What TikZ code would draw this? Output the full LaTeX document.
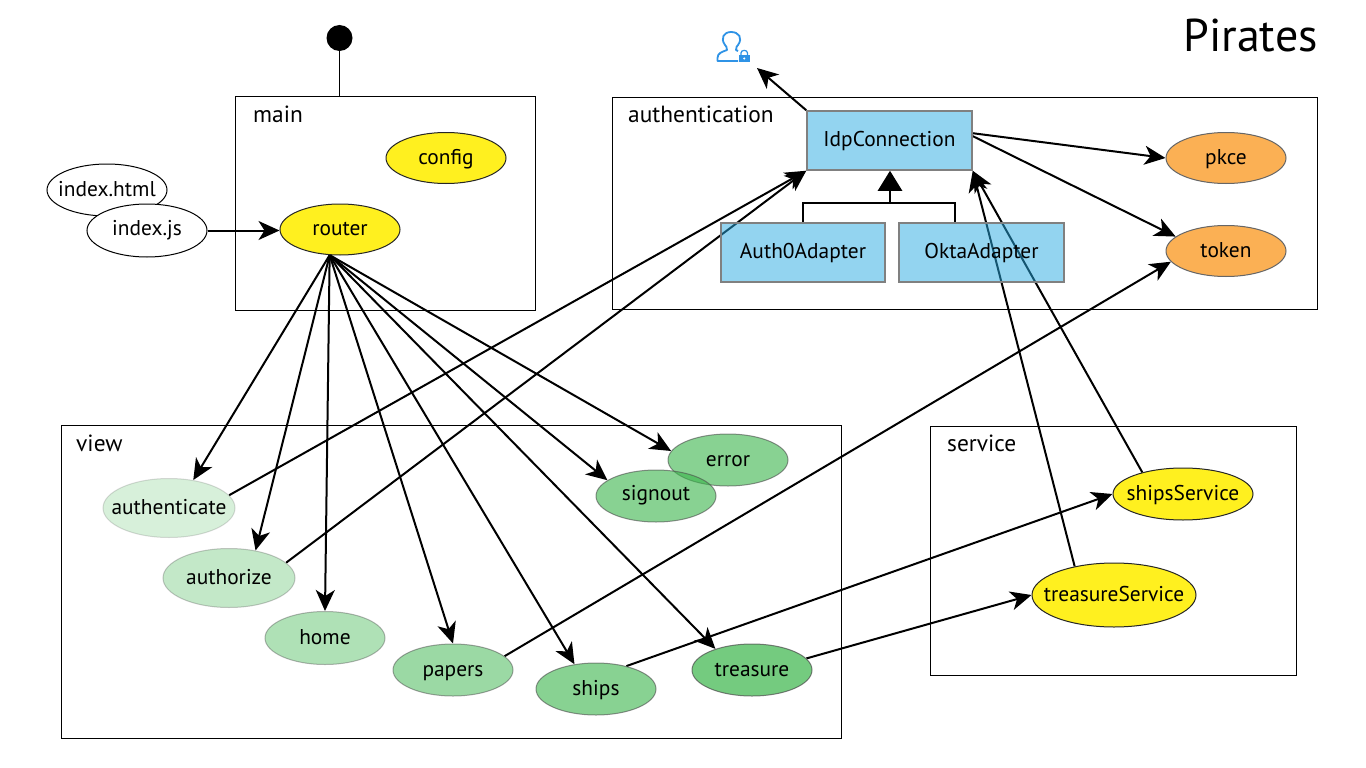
\documentclass[tikz,border=0pt]{standalone}
\usepackage{fontspec}
\setmainfont{PT Sans}
\usetikzlibrary{arrows.meta,shapes.geometric,backgrounds}
\definecolor{gbase}{HTML}{39B54A}
\definecolor{ybase}{HTML}{FFF01F}
\definecolor{obase}{HTML}{FBB054}
\definecolor{bbase}{HTML}{29ABE2}
\definecolor{iconblue}{HTML}{2F93E6}
\tikzset{
  every node/.style={font=\fontsize{21.4}{24}\selectfont,text=black},
  pack/.style={draw=black,line width=1pt,fill=none,rectangle,inner sep=0pt,anchor=north west},
  packlabel/.style={inner sep=0pt,anchor=base west,font=\fontsize{23.4}{26}\selectfont},
  oval/.style={ellipse,inner ysep=0pt,inner xsep=-40pt,text height=15pt,text depth=3pt,minimum width=120pt,minimum height=51pt,line width=1pt},
  plain/.style={oval,draw=black,fill=white},
  yel/.style={oval,draw=black!85,fill=ybase},
  ora/.style={oval,draw=black!60,fill=obase},
  grn/.style={oval,draw=black!70,draw opacity=#1,fill=gbase,fill opacity=#1,text opacity=1},
  cls/.style={rectangle,inner sep=0pt,text height=15pt,text depth=3pt,draw=black!50,line width=1.5pt,fill=bbase,fill opacity=.5,text opacity=1},
  dep/.style={-{Stealth[length=21pt,width=19pt,inset=6pt]},line width=2pt,black},
  inh/.style={line width=2pt,black},
  inhtip/.style={-{Triangle[length=20pt,width=24pt]},line width=2.5pt,black},
}
\begin{document}
\begin{tikzpicture}[x=1pt,y=-1pt]
\useasboundingbox (0,0) rectangle (1366,768);
% containers
\node[pack,minimum width=299.5pt,minimum height=213.5pt] (main) at (235,96) {};
\node[pack,minimum width=704.5pt,minimum height=212.5pt] (auth) at (612,96.5) {};
\node[pack,minimum width=779.5pt,minimum height=312.5pt] (view) at (61,425) {};
\node[pack,minimum width=366.5pt,minimum height=248.5pt] (service) at (929.5,426) {};
\node[packlabel] (mainlabel) at (253,122) {main};
\node[packlabel] (authlabel) at (628,122) {authentication};
\node[packlabel] (viewlabel) at (76,451) {view};
\node[packlabel] (servicelabel) at (947,451) {service};
\node[inner sep=0pt,anchor=base east,font=\fontsize{46}{52}\selectfont] (title) at (1318,52) {Pirates};
% start
\node[circle,fill=black,minimum size=26pt,inner sep=0pt] (start) at (339.5,38) {};
% entry
\node[plain,minimum height=52pt] (html) at (107,190) {index.html};
\node[plain,minimum height=53pt,text height=14pt,text depth=4pt] (js) at (147,230.5) {index.js};
% main
\node[yel] (config) at (446,158) {config};
\node[yel] (router) at (340,229.5) {router};
% authentication
\node[cls,minimum width=165pt,minimum height=59pt] (idp) at (889.5,140.5) {IdpConnection};
\node[cls,minimum width=164pt,minimum height=59pt] (auth0) at (803,252.5) {Auth0Adapter};
\node[cls,minimum width=165pt,minimum height=59pt] (okta) at (981.5,252.5) {OktaAdapter};
\node[ora] (pkce) at (1226,158) {pkce};
\node[ora] (token) at (1226,251) {token};
% view
\node[grn=.2,minimum width=132pt,minimum height=59pt] (authenticate) at (169,508) {authenticate};
\node[grn=.3,minimum width=132pt,minimum height=59pt] (authorize) at (229,578) {authorize};
\node[grn=.4,minimum height=53pt] (home) at (325,638) {home};
\node[grn=.5,minimum height=52pt] (papers) at (453,670) {papers};
\node[grn=.6,minimum height=52pt] (ships) at (596,689) {ships};
\node[grn=.7,minimum height=52pt] (treasure) at (752,670) {treasure};
\node[grn=.6,minimum height=52pt] (error) at (728,460) {error};
\node[grn=.6,minimum height=52pt,text height=13pt,text depth=5pt] (signout) at (656,496) {signout};
% service
\node[yel,minimum width=140pt,minimum height=52pt] (shipsService) at (1183,494) {shipsService};
\node[yel,minimum width=164pt,minimum height=64pt] (treasureService) at (1114,595) {treasureService};
% user icon
\coordinate (usericon) at (757,68);
\draw[iconblue,line width=1.8pt,line join=round]
  (738,61) -- (717.5,61) -- (717.5,58) .. controls (717.5,53) and (722,52) .. (727,50)
  .. controls (727,47) and (726,46) .. (725,45)
  .. controls (720,38) and (724,32) .. (731,32)
  .. controls (739,32) and (743,38) .. (738,45)
  .. controls (737,46) and (736,47) .. (736,50)
  -- (738,51);
\fill[iconblue] (738.5,55) rectangle (750,62.5);
\draw[iconblue,line width=1.2pt] (741,55) -- (741,53) .. controls (741,49.5) and (747.5,49.5) .. (747.5,53) -- (747.5,55);
\fill[white] (744.2,58.5) circle (1.1pt);
% everything below the boxes
\begin{scope}[on background layer]
  \fill[white] (0,0) rectangle (1366,768);
  \draw[line width=1.5pt] (start) -- (start |- main.north);
  \draw[dep] (js.east) -- (js.east -| router.west);
  \draw[dep] (router.248) -- (authenticate.49);
  \draw[dep] (router.248) -- (authorize.46);
  \draw[dep] (router.248) -- (home.north);
  \draw[dep] (router.248) -- (papers.north);
  \draw[dep] (router.248) -- (ships.131);
  \draw[dep] (router.248) -- (treasure.150);
  \draw[dep] (router.248) -- (signout.162);
  \draw[dep] (router.248) -- (error.171);
  \draw[dep] (authenticate.12) -- (idp.south west);
  \draw[dep] (authorize.15) -- (idp.south west);
  \draw[dep] (papers.15) -- (token.191);
  \draw[dep] (ships.37) -- (shipsService.west);
  \draw[dep] (treasure.12) -- (treasureService.west);
  \draw[dep] (treasureService.144) -- (idp.south east);
  \draw[dep] (shipsService.152) -- (idp.south east);
  \draw[dep] (idp.5) -- (pkce.west);
  \draw[dep] (idp.3) -- (token.164);
  \draw[dep] (idp.north west) -- (usericon);
  \coordinate (joint) at (890,203);
  \coordinate (jointr) at (955,203);
  \draw[inh] (auth0.north) -- (auth0.north |- joint) -- (jointr) -- (jointr |- okta.north);
  \draw[inhtip] (joint) -- (joint |- idp.south);
\end{scope}
\end{tikzpicture}
\end{document}
